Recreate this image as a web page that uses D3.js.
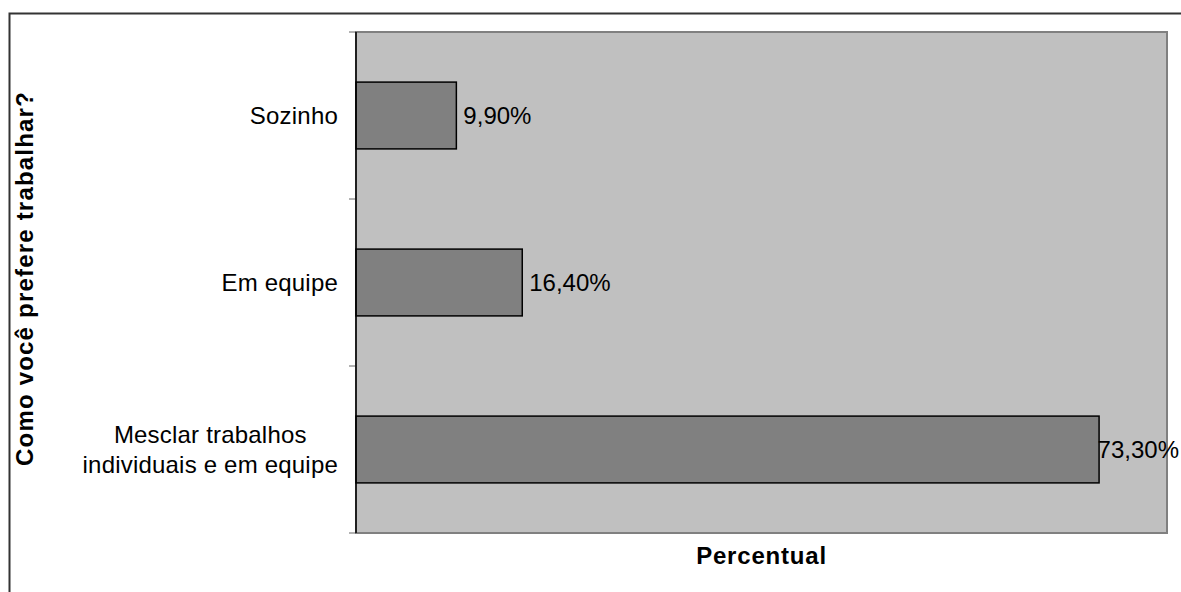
<!DOCTYPE html>
<html>
<head>
<meta charset="utf-8">
<script src="https://cdn.jsdelivr.net/npm/d3@7"></script>
<style>
  html, body { margin: 0; padding: 0; background: #fff; }
  svg { display: block; font-family: "Liberation Sans", Arial, sans-serif; }
</style>
</head>
<body>
<svg id="chart" width="1181" height="592"></svg>
<script>
// Survey answers: "Como você prefere trabalhar?"
const categories = ["Sozinho", "Em equipe", "Mesclar trabalhos\nindividuais e em equipe"];
const values = [9.9, 16.4, 73.3];
const valueLabels = ["9,90%", "16,40%", "73,30%"];

const svg = d3.select("#chart");
const W = 1181, H = 592;
const plot = { left: 356, top: 32, right: 1167, bottom: 533 };

// outer frame
svg.append("rect")
  .attr("x", 9.5).attr("y", 13.5)
  .attr("width", W + 10).attr("height", H + 10)
  .attr("fill", "#fff").attr("stroke", "#333").attr("stroke-width", 2);

const x = d3.scaleLinear().domain([0, 80]).range([plot.left, plot.right]);
const y = d3.scaleBand().domain(categories)
  .range([plot.top, plot.bottom])
  .paddingInner(0.6).paddingOuter(0.3);

// plot area background
svg.append("rect")
  .attr("x", plot.left).attr("y", plot.top)
  .attr("width", plot.right - plot.left).attr("height", plot.bottom - plot.top)
  .attr("fill", "#c0c0c0").attr("stroke", "#808080").attr("stroke-width", 2);

// category tick marks at band boundaries
const bounds = d3.range(categories.length + 1).map(i => plot.top + i * (plot.bottom - plot.top) / categories.length);
svg.selectAll("line.tick").data(bounds).enter().append("line")
  .attr("class", "tick")
  .attr("x1", plot.left - 7).attr("x2", plot.left)
  .attr("y1", d => d).attr("y2", d => d)
  .attr("stroke", "#666").attr("stroke-width", 1);

// bars
svg.selectAll("rect.bar").data(values).enter().append("rect")
  .attr("class", "bar")
  .attr("x", x(0))
  .attr("y", (d, i) => y(categories[i]))
  .attr("width", d => x(d) - x(0))
  .attr("height", y.bandwidth())
  .attr("fill", "#808080").attr("stroke", "#000").attr("stroke-width", 1.5);

// value axis line (left)
svg.append("line")
  .attr("x1", plot.left).attr("x2", plot.left)
  .attr("y1", plot.top).attr("y2", plot.bottom)
  .attr("stroke", "#000").attr("stroke-width", 1.5);

// value labels, kept inside the chart frame
svg.selectAll("text.val").data(values).enter().append("text")
  .attr("class", "val")
  .attr("y", (d, i) => y(categories[i]) + y.bandwidth() / 2)
  .attr("dy", "0.35em")
  .attr("font-size", 24)
  .attr("fill", "#000")
  .text((d, i) => valueLabels[i])
  .attr("x", function(d) {
    const w = this.getComputedTextLength();
    return Math.min(x(d) + 7, W - 2 - w);
  });

// category labels
const catG = svg.selectAll("text.cat").data(categories).enter().append("text")
  .attr("class", "cat")
  .attr("text-anchor", "middle")
  .attr("font-size", 24)
  .attr("letter-spacing", 0.2)
  .attr("fill", "#000")
  .each(function(d) {
    const lines = d.split("\n");
    const t = d3.select(this);
    const cy = y(d) + y.bandwidth() / 2;
    const lh = 30;
    lines.forEach((ln, k) => {
      t.append("tspan")
        .attr("x", 0)
        .attr("y", cy + (k - (lines.length - 1) / 2) * lh)
        .attr("dy", "0.35em")
        .text(ln);
    });
  });
// right-align each label block, lines centred within it
catG.each(function() {
  const bb = this.getBBox();
  d3.select(this).attr("transform", `translate(${338 - (bb.x + bb.width)},0)`);
});

// axis titles
svg.append("text")
  .attr("x", (plot.left + plot.right) / 2).attr("y", 564)
  .attr("text-anchor", "middle")
  .attr("font-size", 24).attr("font-weight", "bold")
  .attr("letter-spacing", 0.8)
  .text("Percentual");

svg.append("text")
  .attr("transform", `translate(33,${(plot.top + plot.bottom) / 2 - 4}) rotate(-90)`)
  .attr("text-anchor", "middle")
  .attr("font-size", 24).attr("font-weight", "bold")
  .attr("letter-spacing", 1.2)
  .text("Como você prefere trabalhar?");
</script>
</body>
</html>
